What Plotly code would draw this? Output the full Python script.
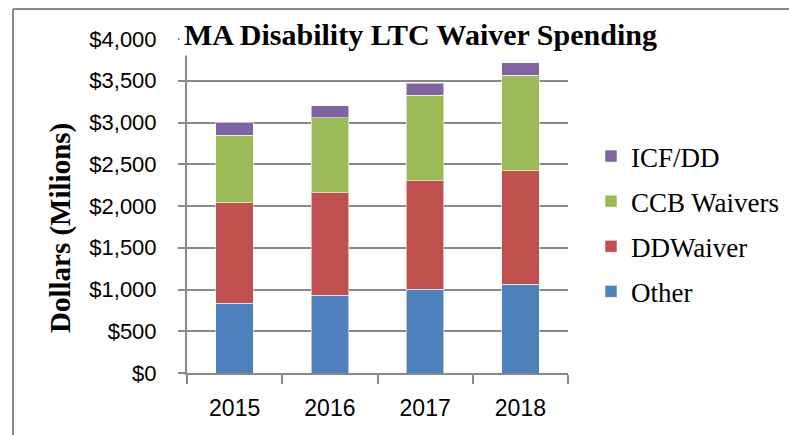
import plotly.graph_objects as go

years = ["2015", "2016", "2017", "2018"]
other = [837, 929, 1005, 1065]
dd_waiver = [1204, 1231, 1299, 1358]
ccb_waivers = [809, 894, 1021, 1145]
icf_dd = [152, 147, 144, 147]

series_names = ["Other", "DDWaiver", "CCB Waivers", "ICF/DD"]
series_values = [other, dd_waiver, ccb_waivers, icf_dd]
series_colors = ["#4F81BD", "#C0504D", "#9BBB59", "#8064A2"]
legend_ranks = [4, 3, 2, 1]

y_ticks = [0, 500, 1000, 1500, 2000, 2500, 3000, 3500, 4000]
y_tick_text = ["${:,}".format(v) for v in y_ticks]

fig = go.Figure()
for name, vals, col, rk in zip(series_names, series_values, series_colors, legend_ranks):
    fig.add_trace(go.Bar(
        x=years, y=vals, name=name, legendgroup=name, legendrank=rk,
        marker=dict(color=col, line=dict(color="rgba(255,255,255,0.55)", width=1)),
    ))

L, R, T, B = 187, 221, 39, 62
W, H = 789, 435
pw, ph = W - L - R, H - T - B

def px_x(x):
    return (x - L) / pw

def px_y(y):
    return (H - B - y) / ph

axis_gray = "#898989"
fig.update_layout(
    width=W, height=H,
    margin=dict(l=L, r=R, t=T, b=B, autoexpand=False),
    barmode="stack", bargap=0.604,
    plot_bgcolor="white", paper_bgcolor="white",
    showlegend=True,
    legend=dict(
        traceorder="grouped", tracegroupgap=7,
        x=px_x(591), xanchor="left", y=px_y(224), yanchor="middle",
        font=dict(family="Liberation Serif", size=27, color="black"),
        itemwidth=30, bgcolor="rgba(0,0,0,0)",
    ),
    xaxis=dict(
        type="category", showline=True, linecolor=axis_gray, linewidth=2,
        ticks="outside", tickson="boundaries", ticklen=9, tickcolor=axis_gray, tickwidth=2,
        tickfont=dict(family="Liberation Sans", size=23, color="black"),
        ticklabelstandoff=13, showgrid=False,
    ),
    yaxis=dict(
        range=[0, 4000], tickvals=y_ticks, ticktext=y_tick_text,
        showline=True, linecolor=axis_gray, linewidth=2,
        ticks="outside", ticklen=7, tickcolor=axis_gray, tickwidth=2,
        showgrid=True, gridcolor=axis_gray, gridwidth=2, zeroline=False,
        tickfont=dict(family="Liberation Sans", size=22, color="black"),
        ticklabelstandoff=17,
    ),
)

fig.add_annotation(
    text="<b>MA Disability LTC Waiver Spending</b>", xref="paper", yref="paper",
    x=px_x(420), y=px_y(35), xanchor="center", yanchor="middle", showarrow=False,
    font=dict(family="Liberation Serif", size=30, color="black"),
    bgcolor="white", borderpad=4,
)
fig.add_annotation(
    text="<b>Dollars (Milions)</b>", xref="paper", yref="paper",
    x=px_x(60), y=px_y(228), xanchor="center", yanchor="middle", showarrow=False,
    textangle=-90, font=dict(family="Liberation Serif", size=29, color="black"),
)
# outer chart border (top and left edges visible)
fig.add_shape(type="line", xref="paper", yref="paper",
              x0=px_x(13), x1=px_x(800), y0=px_y(9), y1=px_y(9),
              line=dict(color="#8a8a8a", width=2))
fig.add_shape(type="line", xref="paper", yref="paper",
              x0=px_x(13), x1=px_x(13), y0=px_y(9), y1=px_y(440),
              line=dict(color="#8a8a8a", width=2))

fig.write_html("out.html")
